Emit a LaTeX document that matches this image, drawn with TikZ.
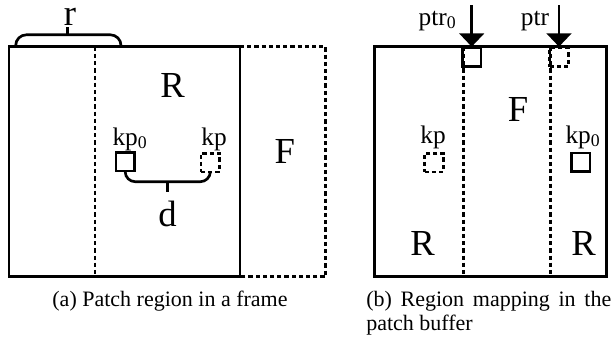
\documentclass[tikz,border=0pt]{standalone}
\usepackage{fontspec}
\setmainfont{Liberation Serif}
\usetikzlibrary{arrows.meta}
\begin{document}
\begin{tikzpicture}[x=0.75pt,y=-0.75pt,
  solidln/.style={line width=2pt},
  dashln/.style={line width=2pt,dash pattern=on 3.2pt off 2.2pt},
  big/.style={font=\fontsize{27.5}{30}\selectfont,inner sep=0pt,anchor=base},
  small/.style={font=\fontsize{19}{21}\selectfont,inner sep=0pt,anchor=base},
  captext/.style={font=\fontsize{16.5}{18}\selectfont,inner sep=0pt,anchor=base},
  sq/.style={draw,minimum size=14pt,inner sep=0pt},
  ptrarrow/.style={line width=2pt,-{Triangle[width=18.5pt,length=10pt]}}]
\useasboundingbox (0,0) rectangle (613,339);
% ---- (a) ----
\draw[dashln] (240,46.7) -- (325.7,46.7) -- (325.7,276.7) -- (240,276.7);
\draw[dashln] (95,46.7) -- (95,276.7);
\draw[solidln] (9,46.7) rectangle (240,276.7);
\draw[solidln,rounded corners=8pt] (15.7,45.5) -- (15.7,34.8) -- (121,34.8) -- (121,45.5);
\draw[solidln] (67.5,34.8) -- (67.5,27);
\node[big] (r) at (70,25) {r};
\node[big] (Ra) at (172.5,97.5) {R};
\node[big] (Fa) at (284.7,163.3) {F};
\node[sq,solidln] (kp0a) at (125.2,161.8) {};
\node[sq,dashln] (kpa) at (210.3,162.5) {};
\node[small] (lkp0a) at (130,145) {kp\textsubscript{0}};
\node[small] (lkpa) at (214,145) {kp};
\draw[solidln,rounded corners=7.5pt] (kp0a.south) -- (kp0a.south |- 0,181.7) -- (kpa.south |- 0,181.7) -- (kpa.south);
\draw[solidln] (167.3,181.7) -- (167.3,191.7);
\node[big] (d) at (167.5,226.5) {d};
\node[captext] (capa) at (170,306) {(a) Patch region in a frame};
% ---- (b) ----
\draw[dashln] (463.3,46.7) -- (463.3,276.7);
\draw[dashln] (550.7,46.7) -- (550.7,276.7);
\draw[solidln] (374.3,46.7) rectangle (606.7,276.7);
\node[sq,solidln,anchor=north] (ptr0sq) at (471.7,46.7) {};
\node[sq,dashln,anchor=north] (ptrsq) at (559,46.7) {};
\coordinate (ptr0top) at (471.7,5);
\coordinate (ptrtop) at (559,5);
\draw[ptrarrow] (ptr0top) -- (ptr0sq.north);
\draw[ptrarrow] (ptrtop) -- (ptrsq.north);
\node[small] (lptr0) at (437.5,25) {ptr\textsubscript{0}};
\node[small] (lptr) at (535,25) {ptr};
\node[big] (Fb) at (518,121.7) {F};
\node[small] (lkpb) at (433,143) {kp};
\node[sq,dashln] (kpb) at (434,162.5) {};
\node[small] (lkp0b) at (583,143) {kp\textsubscript{0}};
\node[sq,solidln] (kp0b) at (580.5,162.2) {};
\node[big] (Rb1) at (422.5,255) {R};
\node[big] (Rb2) at (583.5,255) {R};
\node[captext,anchor=base west,align=justify,text width=245*0.75pt] (capb) at (366,306) {(b) Region mapping in the patch buffer};
\end{tikzpicture}
\end{document}
